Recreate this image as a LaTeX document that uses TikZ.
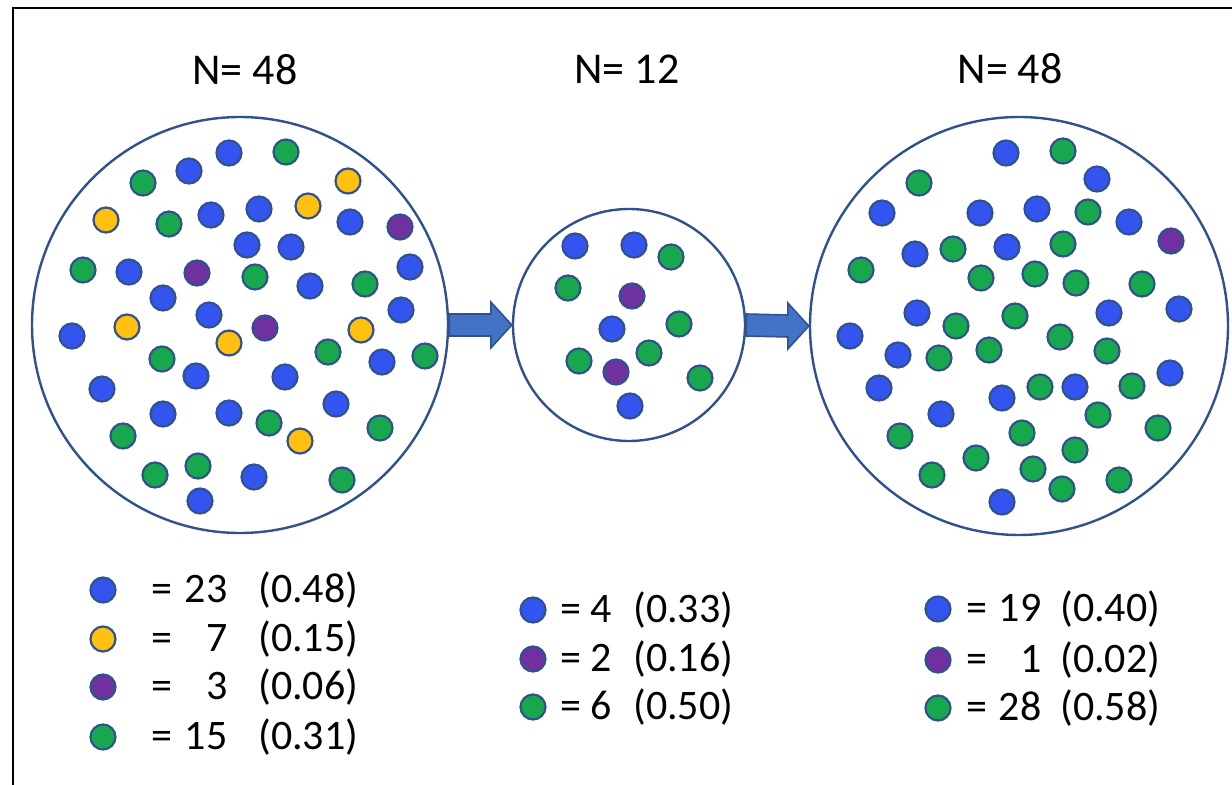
\documentclass[tikz,border=0pt]{standalone}
\usepackage{fontspec}
\setmainfont{Carlito}
\usepackage{xcolor}
\usepackage{tikz}
\usetikzlibrary{calc}

\definecolor{dotblue}{RGB}{52,84,240}
\definecolor{dotgreen}{RGB}{23,168,78}
\definecolor{dotyellow}{RGB}{255,192,16}
\definecolor{dotpurple}{RGB}{112,48,160}
\definecolor{edgeblue}{RGB}{47,82,143}
\definecolor{arrowblue}{RGB}{68,114,196}

\newcommand{\legentry}[4]{=\makebox[#1][r]{#2}\hspace{#3}(#4)}

\begin{document}
\begin{tikzpicture}[
  x=0.5pt, y=-0.5pt,
  pool/.style={
    circle,
    draw=edgeblue,
    line width=1.2pt,
    inner sep=0pt
  },
  dot/.style={
    circle,
    draw=edgeblue,
    line width=1.1pt,
    inner sep=0pt,
    minimum size=12.5pt
  },
  title/.style={font=\fontsize{22}{26}\selectfont},
  legtext/.style={anchor=west, inner sep=0pt, font=\fontsize{21}{25}\selectfont},
  blockarrow/.style={fill=arrowblue, draw=edgeblue, line width=0.8pt}
]
\useasboundingbox (0,0) rectangle (1232,785);
\draw[line width=0.8pt] (13,785) -- (13,8) -- (1232,8);

\node[pool, minimum size=208pt] (pop) at (240,325) {};
\node[pool, minimum size=116pt] (smp) at (629,325) {};
\node[pool, minimum size=209pt] (res) at (1019,326) {};

\node[title] (tpop) at (245,70) {N= 48};
\node[title] (tsmp) at (627,69) {N= 12};
\node[title] (tres) at (1010,69) {N= 48};

\draw[blockarrow] ($(pop.east)+(0,11)$) -- ($(smp.west)+(-21,11)$) -- ($(smp.west)+(-21,23)$)
  -- (smp.west) -- ($(smp.west)+(-21,-23)$) -- ($(smp.west)+(-21,-11)$) -- ($(pop.east)+(0,-11)$) -- cycle;
\draw[blockarrow] ($(smp.east)+(0,11)$) -- ($(res.west)+(-21,11)$) -- ($(res.west)+(-21,23)$)
  -- (res.west) -- ($(res.west)+(-21,-23)$) -- ($(res.west)+(-21,-11)$) -- ($(smp.east)+(0,-11)$) -- cycle;

\foreach \x/\y [count=\i] in {229/153, 189/171, 211/215, 259/209, 247/245, 291/247, 350/222, 129/272,
  163/298, 310/286, 410/267, 209/315, 401/310, 72/336, 382/362, 196/376, 285/377, 102/389,
  163/414, 229/413, 336/404, 254/477, 200/501}
  \node[dot, fill=dotblue] (pb\i) at (\x,\y) {};
\foreach \x/\y [count=\i] in {106/220, 348/181, 308/206, 127/327, 229/343, 361/330, 300/441}
  \node[dot, fill=dotyellow] (py\i) at (\x,\y) {};
\foreach \x/\y [count=\i] in {400/227, 197/273, 265/328}
  \node[dot, fill=dotpurple] (pp\i) at (\x,\y) {};
\foreach \x/\y [count=\i] in {143/183, 286/152, 169/224, 83/270, 255/277, 365/284, 162/359, 328/352,
  425/356, 123/436, 269/423, 380/428, 155/475, 198/466, 342/480}
  \node[dot, fill=dotgreen] (pg\i) at (\x,\y) {};

\foreach \x/\y [count=\i] in {575/246, 634/245, 612/329, 630/406}
  \node[dot, fill=dotblue] (sb\i) at (\x,\y) {};
\foreach \x/\y [count=\i] in {632/296, 616/372}
  \node[dot, fill=dotpurple] (sp\i) at (\x,\y) {};
\foreach \x/\y [count=\i] in {671/257, 568/288, 679/324, 579/361, 649/353, 700/378}
  \node[dot, fill=dotgreen] (sg\i) at (\x,\y) {};

\foreach \x/\y [count=\i] in {1006/153, 1097/179, 882/213, 980/213, 1037/209, 1129/222, 915/254,
  1007/247, 917/313, 1109/313, 1179/309, 850/336, 898/355, 879/388, 1002/398, 1075/387,
  941/414, 1170/373, 1002/502}
  \node[dot, fill=dotblue] (rb\i) at (\x,\y) {};
\node[dot, fill=dotpurple] (rp1) at (1171,241) {};
\foreach \x/\y [count=\i] in {1063/151, 919/183, 1088/212, 953/249, 1063/244, 861/270, 981/278,
  1035/274, 1076/283, 1142/284, 1015/316, 956/326, 1060/337, 939/358, 989/350, 1107/351,
  1040/387, 1132/386, 1098/415, 1158/428, 900/436, 1022/433, 976/458, 1075/450, 1033/469,
  932/475, 1062/489, 1119/480}
  \node[dot, fill=dotgreen] (rg\i) at (\x,\y) {};

\node[dot, fill=dotblue] (lpb) at (103,590) {};
\node[dot, fill=dotyellow] (lpy) at (103,639) {};
\node[dot, fill=dotpurple] (lpp) at (103,687) {};
\node[dot, fill=dotgreen] (lpg) at (103,737) {};
\node[legtext] (tpb) at (151,590) {\legentry{27.5pt}{23}{15.5pt}{0.48}};
\node[legtext] (tpy) at (151,639) {\legentry{27.5pt}{7}{15.5pt}{0.15}};
\node[legtext] (tpp) at (151,687) {\legentry{27.5pt}{3}{15.5pt}{0.06}};
\node[legtext] (tpg) at (151,737) {\legentry{27.5pt}{15}{15.5pt}{0.31}};

\node[dot, fill=dotblue] (lsb) at (533,610) {};
\node[dot, fill=dotpurple] (lsp) at (533,659) {};
\node[dot, fill=dotgreen] (lsg) at (533,707) {};
\node[legtext] (tsb) at (560,610) {\legentry{15pt}{4}{11pt}{0.33}};
\node[legtext] (tsp) at (560,659) {\legentry{15pt}{2}{11pt}{0.16}};
\node[legtext] (tsg) at (560,707) {\legentry{15pt}{6}{11pt}{0.50}};

\node[dot, fill=dotblue] (lrb) at (938,609) {};
\node[dot, fill=dotpurple] (lrp) at (938,660) {};
\node[dot, fill=dotgreen] (lrg) at (938,708) {};
\node[legtext] (trb) at (966,609) {\legentry{27pt}{19}{9.5pt}{0.40}};
\node[legtext] (trp) at (966,660) {\legentry{27pt}{1}{9.5pt}{0.02}};
\node[legtext] (trg) at (966,708) {\legentry{27pt}{28}{9.5pt}{0.58}};

\end{tikzpicture}
\end{document}
